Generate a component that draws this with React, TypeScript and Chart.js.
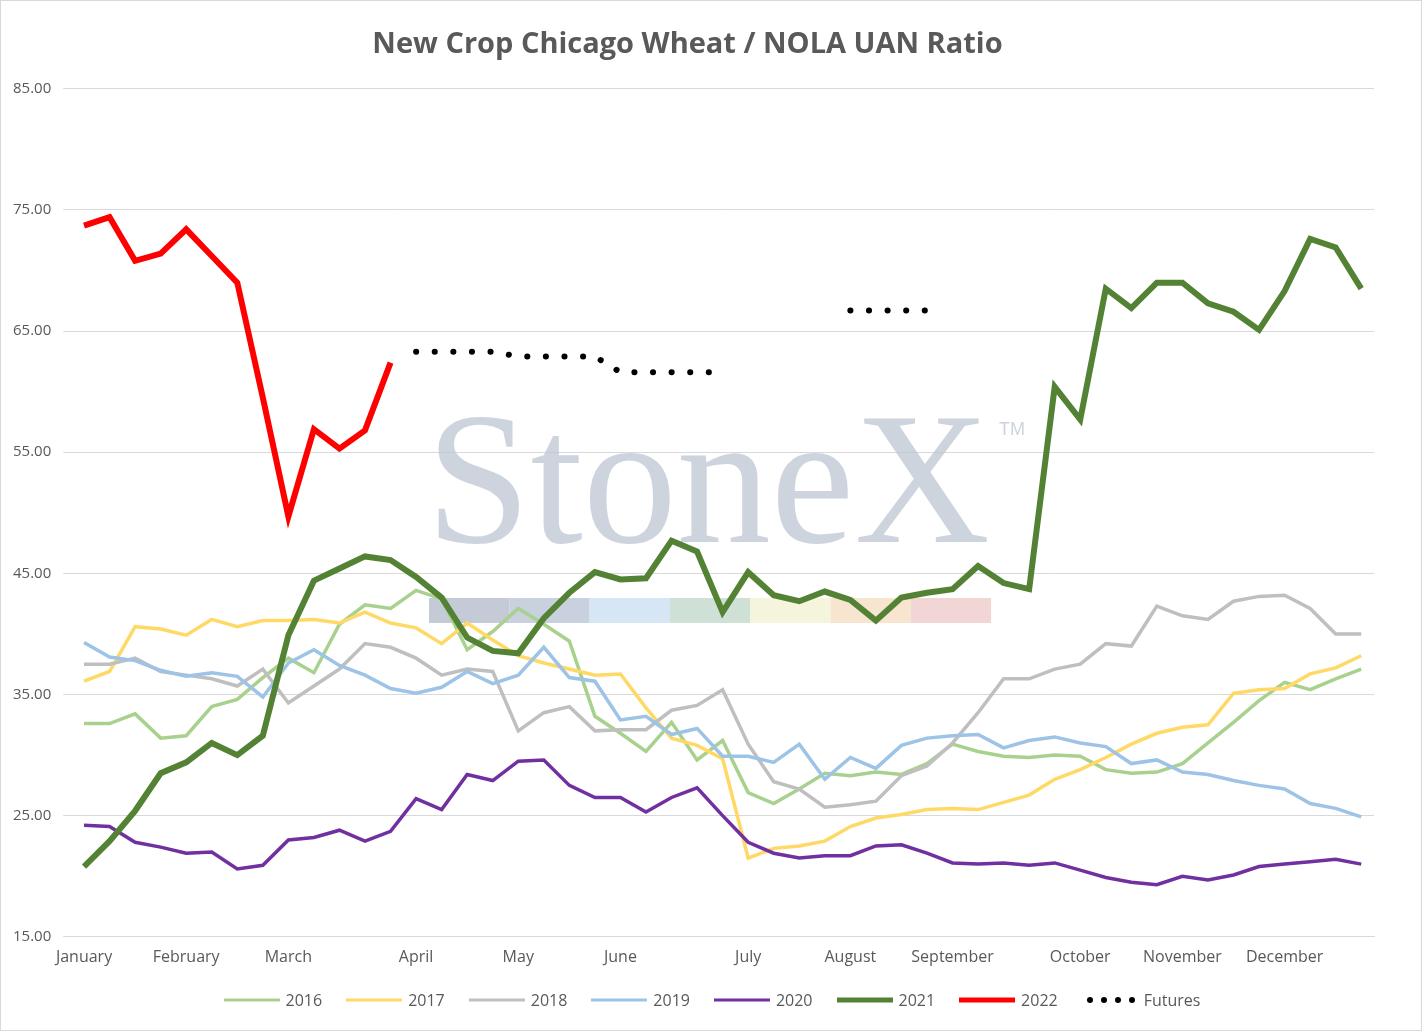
import React, { useEffect, useRef } from "react";
import { Chart, registerables } from "chart.js";
Chart.register(...registerables);

const monthAt: Record<number, string> = { 0: "January", 4: "February", 8: "March", 13: "April", 17: "May", 21: "June", 26: "July", 30: "August", 34: "September", 39: "October", 43: "November", 47: "December" };
const labels = Array.from({ length: 51 }, (_, i) => monthAt[i] || "");

const s2016 = [32.6,32.6,33.4,31.4,31.6,34.0,34.6,36.4,38.0,36.8,40.8,42.4,42.1,43.6,42.9,38.7,40.2,42.1,40.8,39.4,33.2,31.8,30.3,32.7,29.6,31.2,26.9,26.0,27.2,28.5,28.3,28.6,28.4,29.3,30.9,30.3,29.9,29.8,30.0,29.9,28.8,28.5,28.6,29.3,31.0,32.7,34.5,36.0,35.4,36.3,37.1];
const s2017 = [36.1,36.9,40.6,40.4,39.9,41.2,40.6,41.1,41.1,41.2,40.9,41.8,40.9,40.5,39.2,40.9,39.5,38.2,37.6,37.1,36.6,36.7,33.9,31.4,30.8,29.7,21.5,22.3,22.5,22.9,24.1,24.8,25.1,25.5,25.6,25.5,26.1,26.7,28.0,28.8,29.8,30.9,31.8,32.3,32.5,35.1,35.4,35.5,36.7,37.2,38.2];
const s2018 = [37.5,37.5,38.0,36.9,36.6,36.3,35.7,37.1,34.3,35.7,37.1,39.2,38.9,38.0,36.6,37.1,36.9,32.0,33.5,34.0,32.0,32.1,32.1,33.7,34.1,35.4,30.9,27.8,27.2,25.7,25.9,26.2,28.3,29.1,31.0,33.5,36.3,36.3,37.1,37.5,39.2,39.0,42.3,41.5,41.2,42.7,43.1,43.2,42.1,40.0,40.0];
const s2019 = [39.3,38.1,37.8,37.0,36.5,36.8,36.5,34.8,37.6,38.7,37.4,36.6,35.5,35.1,35.6,36.9,35.9,36.6,38.9,36.4,36.1,32.9,33.2,31.7,32.2,29.9,29.9,29.4,30.9,28.0,29.8,28.9,30.8,31.4,31.6,31.7,30.6,31.2,31.5,31.0,30.7,29.3,29.6,28.6,28.4,27.9,27.5,27.2,26.0,25.6,24.9];
const s2020 = [24.2,24.1,22.8,22.4,21.9,22.0,20.6,20.9,23.0,23.2,23.8,22.9,23.7,26.4,25.5,28.4,27.9,29.5,29.6,27.5,26.5,26.5,25.3,26.5,27.3,25.0,22.8,21.9,21.5,21.7,21.7,22.5,22.6,21.9,21.1,21.0,21.1,20.9,21.1,20.5,19.9,19.5,19.3,20.0,19.7,20.1,20.8,21.0,21.2,21.4,21.0];
const s2021 = [20.8,22.9,25.4,28.5,29.4,31.0,30.0,31.6,39.9,44.4,45.4,46.4,46.1,44.7,43.0,39.7,38.6,38.4,41.3,43.4,45.1,44.5,44.6,47.7,46.8,41.8,45.1,43.2,42.7,43.5,42.8,41.1,43.0,43.4,43.7,45.6,44.2,43.7,60.4,57.7,68.5,66.9,69.0,69.0,67.3,66.6,65.1,68.3,72.6,71.9,68.5];
const s2022 = [73.7,74.4,70.8,71.4,73.4,71.2,69.0,59.5,49.7,56.9,55.3,56.8,62.4];
const futures: (number | null)[] = [null,null,null,null,null,null,null,null,null,null,null,null,null,63.3,63.3,63.3,63.3,62.9,62.9,62.9,62.9,61.6,61.6,61.6,61.6,61.6,null,null,null,null,66.7,66.7,66.7,66.7];
const yTicks = [15, 25, 35, 45, 55, 65, 75, 85];

const legendItems = [
  { label: "2016", color: "#a9d18e", w: 3 },
  { label: "2017", color: "#ffd966", w: 3 },
  { label: "2018", color: "#bfbfbf", w: 3 },
  { label: "2019", color: "#9dc3e6", w: 3 },
  { label: "2020", color: "#7030a0", w: 3 },
  { label: "2021", color: "#548235", w: 5 },
  { label: "2022", color: "#ff0000", w: 5 },
  { label: "Futures", color: "#000", w: 5, dot: true },
];

const watermark = {
  id: "wm",
  beforeDatasetsDraw(chart: any) {
    const ctx = chart.ctx;
    ctx.save();
    ctx.fillStyle = "rgba(190,198,210,0.75)";
    ctx.font = "188px 'Liberation Serif', serif";
    ctx.textBaseline = "alphabetic";
    ctx.fillText("StoneX", 425, 541);
    ctx.font = "18px 'Liberation Sans', sans-serif";
    ctx.fillText("TM", 998, 434);
    const cols = ["#c4cad6", "#c9d1de", "#d6e6f4", "#cfe1d6", "#f5f4dc", "#f7e5d0", "#f2d5d5"];
    cols.forEach((c, i) => { ctx.fillStyle = c; ctx.fillRect(428 + i * 80.3, 597, 80.3, 25); });
    ctx.restore();
  },
};

export default function App() {
  const ref = useRef<HTMLCanvasElement>(null);
  useEffect(() => {
    document.body.style.margin = "0";
    const mk = (label: string, data: any[], color: string, w: number, order: number, extra: any = {}) => ({
      label, data, borderColor: color, backgroundColor: color, borderWidth: w, pointRadius: 0, tension: 0, order, ...extra,
    });
    const chart = new Chart(ref.current!, {
      type: "line",
      data: {
        labels,
        datasets: [
          mk("2016", s2016, "#a9d18e", 3.5, 8),
          mk("2017", s2017, "#ffd966", 3.5, 7),
          mk("2018", s2018, "#bfbfbf", 3.5, 6),
          mk("2019", s2019, "#9dc3e6", 3.5, 5),
          mk("2020", s2020, "#7030a0", 3.5, 4),
          mk("2021", s2021, "#548235", 6, 3),
          mk("2022", s2022, "#ff0000", 6, 2),
          mk("Futures", futures, "#000", 6, 1, { borderDash: [0.1, 18.5], borderCapStyle: "round", spanGaps: false }),
        ],
      },
      options: {
        responsive: false,
        animation: false,
        layout: { padding: { left: 0, right: 47, top: 10, bottom: 60 } },
        plugins: {
          legend: { display: false },
          tooltip: { enabled: false },
          title: { display: true, text: "New Crop Chicago Wheat / NOLA UAN Ratio", color: "#595959", font: { size: 29, weight: "bold", family: "'Open Sans', sans-serif" }, padding: { top: 16, bottom: 27 } },
        },
        scales: {
          x: {
            offset: true,
            grid: { display: false },
            border: { color: "#d9d9d9" },
            ticks: { autoSkip: false, maxRotation: 0, color: "#595959", font: { size: 16, family: "'Open Sans', sans-serif" }, callback: (_v: any, i: number) => labels[i] },
          },
          y: {
            min: 15, max: 85,
            afterBuildTicks: (axis: any) => { axis.ticks = yTicks.map((v) => ({ value: v })); },
            grid: { color: "#d9d9d9" },
            border: { display: false },
            ticks: { color: "#595959", padding: 12, font: { size: 15, family: "'Open Sans', sans-serif" }, callback: (v: any) => Number(v).toFixed(2) },
          },
        },
      },
      plugins: [watermark],
    });
    return () => chart.destroy();
  }, []);
  return (
    <div style={{ position: "relative", width: 1422, height: 1031, border: "1px solid #d9d9d9", boxSizing: "border-box", background: "#fff" }}>
      <canvas ref={ref} width={1420} height={1029} />
      <div style={{ position: "absolute", top: 988, left: 0, width: 1420, display: "flex", justifyContent: "center", gap: 22, fontFamily: "'Open Sans', sans-serif", fontSize: 16, color: "#595959" }}>
        {legendItems.map((it) => (
          <div key={it.label} style={{ display: "flex", alignItems: "center", gap: 4 }}>
            <svg width="60" height="12">
              {it.dot
                ? [10, 24, 38, 52].map((x) => <circle key={x} cx={x} cy={6} r={3} fill="#000" />)
                : <line x1="2" y1="6" x2="58" y2="6" stroke={it.color} strokeWidth={it.w} />}
            </svg>
            <span>{it.label}</span>
          </div>
        ))}
      </div>
    </div>
  );
}
